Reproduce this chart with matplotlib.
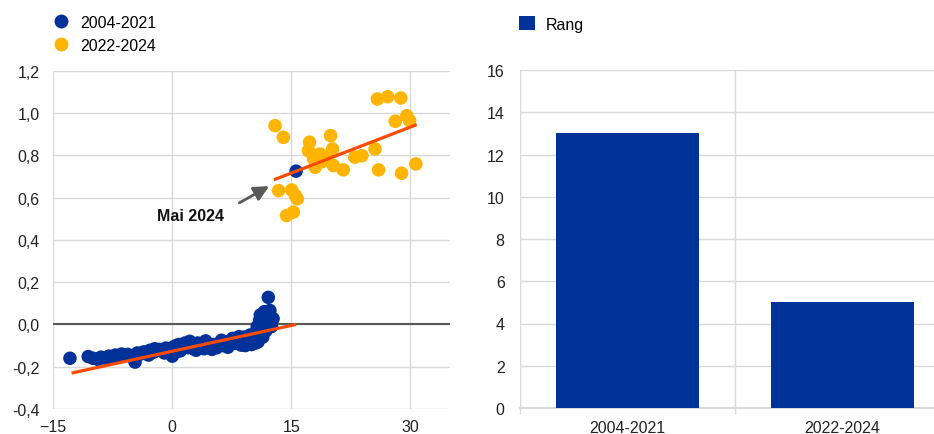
import matplotlib
matplotlib.use("Agg")
import matplotlib.pyplot as plt
from matplotlib.lines import Line2D
from matplotlib.patches import Patch
import numpy as np

plt.rcParams['font.family'] = ['Liberation Sans', 'DejaVu Sans']

BLUE = "#003299"
YELLOW = "#FFB400"
ORANGE = "#FF4B00"
GRID = "#D9D9D9"
DARK = "#595959"

# ---- data: left scatter ----
blue_x = [-12.9, -10.6, -10.0, -9.4, -9.0, -8.5, -8.0, -7.6, -7.2, -6.8, -6.4, -6.0,
          -5.6, -5.2, -4.7, -4.4, -4.0, -3.6, -3.2, -2.8, -2.4, -2.0, -1.6, -1.2,
          -0.8, -0.4, 0.0, 0.2, 0.5, 0.9, 1.2, 1.6, 2.0, 2.4, 2.8, 3.2, 3.6, 4.0,
          4.4, 4.8, 5.2, 5.6, 6.0, 6.4, 6.8, 7.2, 7.6, 8.0, 8.3, 8.7, 9.0, 9.4,
          9.8, 10.0, 10.3, 10.6, 10.8, 10.7, 11.0, 11.1, 11.4, 11.6, 12.0, 12.1,
          12.3, 12.7, 12.5, 11.8, 11.3,
          -3.0, -1.0, 1.0, 3.0, 5.0, 7.0, 9.2, 10.5, 2.2, 4.2, 6.2, 8.4, -2.2, 0.6,
          15.6]
blue_y = [-0.160, -0.152, -0.160, -0.165, -0.155, -0.160, -0.150, -0.158, -0.145, -0.150,
          -0.140, -0.148, -0.142, -0.150, -0.178, -0.135, -0.140, -0.130, -0.138, -0.122,
          -0.132, -0.125, -0.118, -0.128, -0.112, -0.120, -0.150, -0.105, -0.130, -0.095,
          -0.115, -0.088, -0.110, -0.092, -0.118, -0.088, -0.105, -0.115, -0.092, -0.105,
          -0.095, -0.110, -0.090, -0.100, -0.082, -0.095, -0.066, -0.090, -0.072, -0.098,
          -0.060, -0.085, -0.050, -0.095, -0.070, -0.040, -0.083, -0.010, 0.020, 0.045,
          -0.060, 0.060, 0.040, 0.128, 0.066, 0.027, -0.010, -0.030, -0.005,
          -0.145, -0.135, -0.125, -0.122, -0.118, -0.108, -0.100, -0.088, -0.080, -0.078,
          -0.075, -0.058, -0.115, -0.098,
          0.725]

yellow_x = [12.95, 14.0, 13.4, 15.05, 15.75, 15.25, 14.4, 17.3, 17.15, 19.95, 18.6, 20.2,
            17.8, 18.0, 20.3, 21.55, 23.0, 23.9, 25.55, 26.0, 28.9, 30.7, 28.1, 29.55,
            29.9, 25.85, 27.15, 28.8, 15.5, 18.9, 19.4]
yellow_y = [0.940, 0.885, 0.633, 0.636, 0.594, 0.531, 0.515, 0.862, 0.822, 0.893, 0.806, 0.830,
            0.783, 0.743, 0.751, 0.731, 0.791, 0.798, 0.830, 0.731, 0.715, 0.759, 0.961, 0.987,
            0.964, 1.066, 1.077, 1.071, 0.610, 0.770, 0.790]

trend_blue_x = [-12.7, 15.6]
trend_blue_y = [-0.230, 0.000]
trend_yellow_x = [12.8, 30.8]
trend_yellow_y = [0.684, 0.945]

series_labels = ["2004-2021", "2022-2024"]
annot_text = "Mai 2024"
annot_xy = (12.2, 0.654)
annot_from = (8.45, 0.575)

# ---- data: right bars ----
bar_categories = ["2004-2021", "2022-2024"]
bar_values = [13, 5]
bar_label = "Rang"

W, H = 934, 435
fig = plt.figure(figsize=(W / 100, H / 100), dpi=100)

# ---------- left chart ----------
ax1 = fig.add_axes([53.3 / W, 1 - 410 / H, (450 - 53.3) / W, (410 - 71.7) / H])
ax1.set_xlim(-15, 35)
ax1.set_ylim(-0.4, 1.2)
ax1.set_xticks([-15, 0, 15, 30])
ax1.set_yticks(np.arange(-0.4, 1.21, 0.2))
ax1.set_yticklabels([f"{v:.1f}".replace(".", ",") for v in np.arange(-0.4, 1.21, 0.2)])
for s in ax1.spines.values():
    s.set_visible(False)
ax1.grid(True, color=GRID, linewidth=1.0, zorder=0)
ax1.set_axisbelow(True)
ax1.tick_params(length=0, labelsize=11.5, colors="#222222", pad=10)
ax1.tick_params(axis='x', pad=7)
ax1.axhline(0, color=DARK, linewidth=1.5, zorder=1)

ax1.scatter(blue_x, blue_y, s=95, color=BLUE, edgecolors='none', zorder=3)
ax1.scatter(yellow_x, yellow_y, s=95, color=YELLOW, edgecolors='none', zorder=3)
ax1.plot(trend_blue_x, trend_blue_y, color=ORANGE, linewidth=2.3, zorder=4, solid_capstyle='butt')
ax1.plot(trend_yellow_x, trend_yellow_y, color=ORANGE, linewidth=2.3, zorder=4, solid_capstyle='butt')

ax1.annotate("", xy=annot_xy, xytext=annot_from,
             arrowprops=dict(arrowstyle="-|>,head_length=0.9,head_width=0.45",
                             color=DARK, lw=2.0, shrinkA=0, shrinkB=0), zorder=5)
ax1.text(6.5, 0.515, annot_text, ha='right', va='center', fontsize=11.5,
         fontweight='bold', color="#111111", zorder=5)

handles = [Line2D([], [], marker='o', ls='', color=BLUE, markersize=10, markeredgewidth=0),
           Line2D([], [], marker='o', ls='', color=YELLOW, markersize=10, markeredgewidth=0)]
fig.legend(handles, series_labels, loc='upper left', bbox_to_anchor=(51 / W, 1 - 16 / H),
           frameon=False, fontsize=11.5, handletextpad=0.55, labelspacing=0.5,
           borderaxespad=0, borderpad=0, handlelength=1.3)

# ---------- right chart ----------
ax2 = fig.add_axes([520 / W, 1 - 409 / H, 430 / W, (409 - 71) / H])
xpos = np.arange(len(bar_categories))
ax2.bar(xpos, bar_values, width=0.665, color=BLUE, zorder=3)
ax2.set_xlim(-0.5, len(bar_categories) - 0.5)
ax2.set_ylim(0, 16)
ax2.set_yticks(range(0, 17, 2))
ax2.set_xticks(xpos)
ax2.set_xticklabels(bar_categories)
for s in ax2.spines.values():
    s.set_visible(False)
ax2.spines['bottom'].set_visible(True)
ax2.spines['bottom'].set_color(GRID)
ax2.spines['bottom'].set_linewidth(1.5)
ax2.yaxis.grid(True, color=GRID, linewidth=1.0, zorder=0)
ax2.set_xticks([-0.5, 0.5, 1.5], minor=True)
ax2.xaxis.grid(True, which='minor', color=GRID, linewidth=1.0, zorder=0)
ax2.set_axisbelow(True)
ax2.tick_params(axis='y', length=0, labelsize=11.5, colors="#222222", pad=11)
ax2.tick_params(axis='x', which='major', length=0, labelsize=11.5, colors="#222222", pad=9)
ax2.tick_params(axis='x', which='minor', length=4, color=GRID, width=1.0)

fig.legend([Patch(facecolor=BLUE, edgecolor='none')], [bar_label], loc='upper left',
           bbox_to_anchor=(519 / W, 1 - 17 / H), frameon=False, fontsize=11.5,
           handletextpad=0.7, borderaxespad=0, borderpad=0, handlelength=1.0, handleheight=1.0)

fig.savefig("out.png", dpi=100)
